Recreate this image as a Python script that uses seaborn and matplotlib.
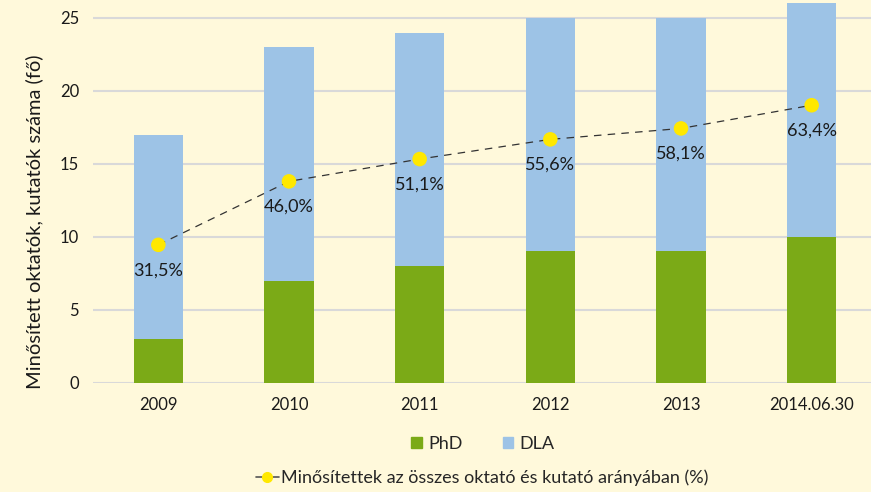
import seaborn as sns
import matplotlib.pyplot as plt
import pandas as pd
from matplotlib.patches import Patch
from matplotlib.lines import Line2D

# adatok a diagramról
years = ['2009', '2010', '2011', '2012', '2013', '2014.06.30']
phd = [3, 7, 8, 9, 9, 10]
dla = [14, 16, 16, 16, 16, 16]
ratio = [31.5, 46.0, 51.1, 55.6, 58.1, 63.4]
ratio_labels = ['31,5%', '46,0%', '51,1%', '55,6%', '58,1%', '63,4%']

bg = '#FFF9DB'
green = '#7BAA17'
blue = '#9DC3E6'
yellow = '#FFE800'

sns.set_theme(style='white')
plt.rcParams['font.family'] = ['Lato', 'DejaVu Sans']

df = pd.DataFrame({'year': years, 'PhD': phd, 'DLA': dla, 'ratio': ratio})
df['total'] = df['PhD'] + df['DLA']

fig = plt.figure(figsize=(8.71, 4.92), dpi=100, facecolor=bg)
ax = fig.add_axes([93 / 871, 1 - 382.7 / 492, 784 / 871, 382.7 / 492])
ax.set_facecolor(bg)

# halmozott oszlopok: teljes (DLA színnel), rá a PhD rész
sns.barplot(data=df, x='year', y='total', color=blue, width=0.38,
            saturation=1, linewidth=0, ax=ax, zorder=2)
sns.barplot(data=df, x='year', y='PhD', color=green, width=0.38,
            saturation=1, linewidth=0, ax=ax, zorder=2)

ytop = 25 + 18 / 14.59
ax.set_ylim(0, ytop)
ax.set_xlim(-0.5, 5.5)
ax.set_yticks([0, 5, 10, 15, 20, 25])
ax.yaxis.grid(True, color='#D9D9D9', linewidth=1.5, zorder=0)
ax.set_axisbelow(True)
for s in ax.spines.values():
    s.set_visible(False)
ax.tick_params(axis='both', labelsize=12, colors='#1a1a1a', length=0, pad=10)
ax.set_xlabel('')
ax.set_ylabel('Minősített oktatók, kutatók száma (fő)', fontsize=14.5,
              color='#1a1a1a')
ax.yaxis.set_label_coords(-0.064, 0.42)

# arányvonal a másodlagos (rejtett) tengelyen
ax2 = ax.twinx()
ax2.set_ylim(0, ytop / 0.3)
ax2.plot(range(len(years)), df['ratio'], color='#333333', linestyle=(0, (6, 5)),
         linewidth=0.9, zorder=3)
ax2.scatter(range(len(years)), df['ratio'], s=110, color=yellow, zorder=4,
            edgecolor='none')
for i, (v, lab) in enumerate(zip(ratio, ratio_labels)):
    ax2.annotate(lab, (i, v), xytext=(0, -12.5), textcoords='offset points',
                 ha='center', va='top', fontsize=13, color='#1a1a1a')
ax2.axis('off')

leg1 = fig.legend(handles=[Patch(color=green, label='PhD'),
                           Patch(color=blue, label='DLA')],
                  loc='center', bbox_to_anchor=(483 / 871, 1 - 444 / 492),
                  ncol=2, frameon=False, fontsize=13, handlelength=0.6,
                  handleheight=0.6, columnspacing=2.2, handletextpad=0.35)
leg2 = fig.legend(handles=[Line2D([0], [0], color='#555555', linewidth=1.2,
                                  marker='o', markersize=7,
                                  markerfacecolor=yellow, markeredgecolor=yellow,
                                  label='Minősítettek az összes oktató és kutató arányában (%)')],
                  loc='center', bbox_to_anchor=(482 / 871, 1 - 478 / 492),
                  frameon=False, fontsize=13, handlelength=1.3, handletextpad=0.1)

fig.savefig('out.png', dpi=100, facecolor=bg)
